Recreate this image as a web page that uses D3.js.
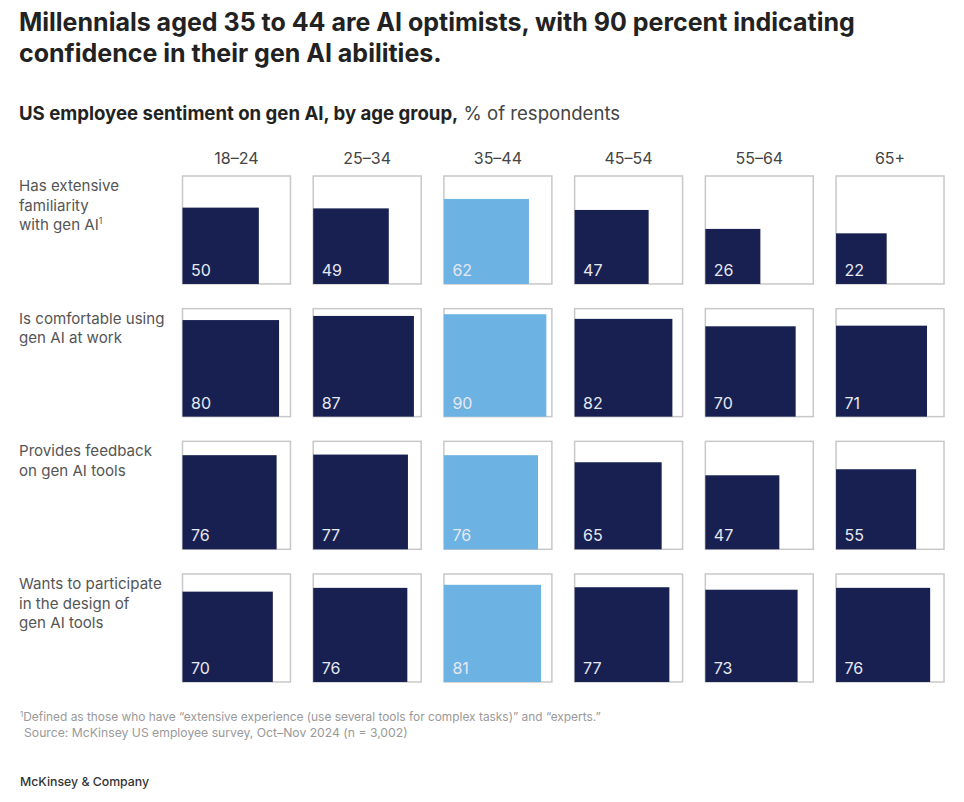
<!DOCTYPE html>
<html>
<head>
<meta charset="utf-8">
<script src="https://cdn.jsdelivr.net/npm/d3@7"></script>
<style>
  html, body { margin: 0; padding: 0; background: #fff; }
  svg { display: block; font-family: Inter, "Liberation Sans", Arial, sans-serif; }
</style>
</head>
<body>
<svg id="chart" width="964" height="802"></svg>
<script>
const ageGroups = ["18–24", "25–34", "35–44", "45–54", "55–64", "65+"];
const rowKeys = ["familiarity", "comfortable", "feedback", "design"];
const rowLabels = [
  ["Has extensive", "familiarity", "with gen AI"],
  ["Is comfortable using", "gen AI at work"],
  ["Provides feedback", "on gen AI tools"],
  ["Wants to participate", "in the design of", "gen AI tools"]
];
const familiarity = [50, 49, 62, 47, 26, 22];
const comfortable = [80, 87, 90, 82, 70, 71];
const feedback    = [76, 77, 76, 65, 47, 55];
const design      = [70, 76, 81, 77, 73, 76];
const highlightGroup = "35–44";

const titleLines = [
  "Millennials aged 35 to 44 are AI optimists, with 90 percent indicating",
  "confidence in their gen AI abilities."
];
const subtitleBold = "US employee sentiment on gen AI, by age group,";
const subtitleRest = " % of respondents";
const footnote = "Defined as those who have “extensive experience (use several tools for complex tasks)” and “experts.”";
const source = "Source: McKinsey US employee survey, Oct–Nov 2024 (n = 3,002)";
const brand = "McKinsey & Company";

const seriesByRow = { familiarity, comfortable, feedback, design };

const NAVY = "#172050", LIGHT = "#6cb2e3";
const svg = d3.select("#chart");

// Title
svg.append("g").selectAll("text").data(titleLines).join("text")
  .attr("x", 19).attr("y", (d, i) => 31 + i * 31)
  .attr("font-size", 25).attr("font-weight", 700).attr("fill", "#222")
  .text(d => d);

// Subtitle
const sub = svg.append("text").attr("x", 19).attr("y", 120).attr("font-size", 18.6).attr("fill", "#222");
sub.append("tspan").attr("font-weight", 700).text(subtitleBold);
sub.append("tspan").attr("font-weight", 400).attr("fill", "#444").text(subtitleRest);

// Scales
const x = d3.scaleBand().domain(ageGroups).range([182.5, 944]).paddingInner(0.174).paddingOuter(0);
const y = d3.scaleBand().domain(rowKeys).range([176, 682]).paddingInner(0.186).paddingOuter(0);
const box = Math.min(x.bandwidth(), y.bandwidth());
const side = d3.scaleSqrt().domain([0, 100]).range([0, box]);

// Column headers
svg.append("g").selectAll("text").data(ageGroups).join("text")
  .attr("x", d => x(d) + x.bandwidth() / 2).attr("y", 164)
  .attr("text-anchor", "middle").attr("font-size", 16).attr("fill", "#444")
  .text(d => d);

// Row labels
rowKeys.forEach((k, ri) => {
  const t = svg.append("text").attr("x", 19).attr("y", y(k) + 15)
    .attr("font-size", 15.1).attr("fill", "#555");
  rowLabels[ri].forEach((line, li) => {
    t.append("tspan").attr("x", 19).attr("dy", li === 0 ? 0 : 19.5).text(line);
    if (ri === 0 && li === rowLabels[ri].length - 1) {
      t.append("tspan").attr("font-size", 9).attr("dy", -6).text("1");
    }
  });
});

// Cells
const cells = [];
rowKeys.forEach(k => {
  seriesByRow[k].forEach((v, ci) => cells.push({ row: k, group: ageGroups[ci], value: v }));
});

const g = svg.append("g").selectAll("g").data(cells).join("g")
  .attr("transform", d => `translate(${x(d.group)},${y(d.row)})`);

g.append("rect")
  .attr("x", 0).attr("y", 0).attr("width", x.bandwidth()).attr("height", box)
  .attr("fill", "#fff").attr("stroke", "#c8c8c8").attr("stroke-width", 1.5);

g.append("rect")
  .attr("x", 0).attr("y", d => box - side(d.value))
  .attr("width", d => side(d.value)).attr("height", d => side(d.value))
  .attr("fill", d => d.group === highlightGroup ? LIGHT : NAVY);

g.append("text")
  .attr("x", 8.5).attr("y", box - 8)
  .attr("font-size", 16).attr("fill", "#e6e8f0")
  .text(d => d.value);

// Footnotes
const fn = svg.append("text").attr("x", 20).attr("y", 721).attr("font-size", 11.9).attr("fill", "#999");
fn.append("tspan").attr("font-size", 8).attr("dy", -4).text("1");
fn.append("tspan").attr("dy", 4).text(footnote);
svg.append("text").attr("x", 24).attr("y", 737).attr("font-size", 12.2).attr("fill", "#999").text(source);

svg.append("text").attr("x", 20).attr("y", 786).attr("font-size", 12.3).attr("font-weight", 500)
  .attr("fill", "#333").text(brand);
</script>
</body>
</html>
